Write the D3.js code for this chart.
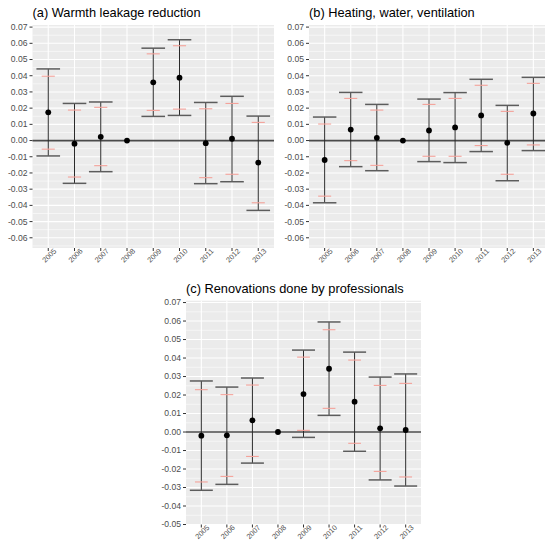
<!DOCTYPE html>
<html>
<head>
<meta charset="UTF-8" />
<title>event study panels</title>
<script src="https://d3js.org/d3.v7.min.js"></script>
<style>
  body { margin: 0; background: #fff; }
  text { font-family: "Liberation Sans", Arial, sans-serif; }
</style>
</head>
<body>
<svg id="chart" width="545" height="540"></svg>
<script>
// data
const years = ["2005","2006","2007","2008","2009","2010","2011","2012","2013"];

// (a) warmth leakage
const estA  = [0.0174, -0.0019, 0.0023, 0, 0.0359, 0.0388, -0.0016, 0.0011, -0.0136];
const lo95A = [-0.0095, -0.0264, -0.0192, null, 0.0149, 0.0155, -0.0266, -0.0254, -0.0431];
const hi95A = [0.0442, 0.0229, 0.0238, null, 0.0570, 0.0622, 0.0235, 0.0273, 0.0151];
const lo90A = [-0.0053, -0.0225, -0.0155, null, 0.0186, 0.0194, -0.0229, -0.0208, -0.0384];
const hi90A = [0.0397, 0.0188, 0.0205, null, 0.0535, 0.0585, 0.0196, 0.0229, 0.0112];

// (b) heating, water, ventilation
const estB  = [-0.0120, 0.0068, 0.0017, 0, 0.0062, 0.0081, 0.0155, -0.0014, 0.0167];
const lo95B = [-0.0384, -0.0161, -0.0186, null, -0.0130, -0.0136, -0.0068, -0.0248, -0.0062];
const hi95B = [0.0145, 0.0297, 0.0223, null, 0.0256, 0.0296, 0.0378, 0.0217, 0.0390];
const lo90B = [-0.0343, -0.0124, -0.0153, null, -0.0097, -0.0097, -0.0031, -0.0208, -0.0027];
const hi90B = [0.0102, 0.0260, 0.0188, null, 0.0223, 0.0260, 0.0341, 0.0180, 0.0353];

// (c) renovations by professionals
const estC  = [-0.0020, -0.0018, 0.0063, 0, 0.0205, 0.0342, 0.0164, 0.0020, 0.0011];
const lo95C = [-0.0315, -0.0283, -0.0168, null, -0.0029, 0.0090, -0.0104, -0.0259, -0.0292];
const hi95C = [0.0276, 0.0243, 0.0292, null, 0.0443, 0.0595, 0.0432, 0.0297, 0.0314];
const lo90C = [-0.0270, -0.0240, -0.0132, null, 0.0009, 0.0128, -0.0061, -0.0213, -0.0243];
const hi90C = [0.0229, 0.0202, 0.0254, null, 0.0405, 0.0553, 0.0389, 0.0252, 0.0263];

const yTicksAB = [-0.06,-0.05,-0.04,-0.03,-0.02,-0.01,0,0.01,0.02,0.03,0.04,0.05,0.06,0.07];
const yTicksC  = [-0.05,-0.04,-0.03,-0.02,-0.01,0,0.01,0.02,0.03,0.04,0.05,0.06,0.07];

const titles = ["(a) Warmth leakage reduction", "(b) Heating, water, ventilation", "(c) Renovations done by professionals"];

const svg = d3.select("#chart");

function drawPanel(cfg) {
  const g = svg.append("g");
  const x = d3.scalePoint().domain(years).range([cfg.x0, cfg.x1]).padding(0.6);
  const y = d3.scaleLinear().domain(cfg.ydom).range([cfg.y1, cfg.y0]);
  const step = x.step();

  // background
  g.append("rect").attr("x", cfg.x0).attr("y", cfg.y0)
    .attr("width", cfg.x1 - cfg.x0).attr("height", cfg.y1 - cfg.y0)
    .attr("fill", "#ebebeb");

  // minor grid
  const minor = [];
  for (let i = 0; i < cfg.ticks.length - 1; i++) minor.push((cfg.ticks[i] + cfg.ticks[i+1]) / 2);
  minor.push(cfg.ticks[0] - 0.005, cfg.ticks[cfg.ticks.length-1] + 0.005);
  g.selectAll(".minor").data(minor.filter(v => v > cfg.ydom[0] && v < cfg.ydom[1])).join("line")
    .attr("x1", cfg.x0).attr("x2", cfg.x1)
    .attr("y1", d => y(d)).attr("y2", d => y(d))
    .attr("stroke", "#fff").attr("stroke-width", 0.55);

  // major grid
  g.selectAll(".hmaj").data(cfg.ticks).join("line")
    .attr("x1", cfg.x0).attr("x2", cfg.x1)
    .attr("y1", d => y(d)).attr("y2", d => y(d))
    .attr("stroke", "#fff").attr("stroke-width", 1.1);
  g.selectAll(".vmaj").data(years).join("line")
    .attr("x1", d => x(d)).attr("x2", d => x(d))
    .attr("y1", cfg.y0).attr("y2", cfg.y1)
    .attr("stroke", "#fff").attr("stroke-width", 1.1);

  // zero line
  g.append("line").attr("x1", cfg.x0).attr("x2", cfg.x1)
    .attr("y1", y(0)).attr("y2", y(0))
    .attr("stroke", "#4a4a4a").attr("stroke-width", 1.7);

  const rows = years.map((yr, i) => ({yr, est: cfg.est[i], lo: cfg.lo95[i], hi: cfg.hi95[i], lo9: cfg.lo90[i], hi9: cfg.hi90[i]}))
    .filter(d => d.lo !== null);

  // 95% error bars
  g.selectAll(".vbar").data(rows).join("line")
    .attr("x1", d => x(d.yr)).attr("x2", d => x(d.yr))
    .attr("y1", d => y(d.lo)).attr("y2", d => y(d.hi))
    .attr("stroke", "#2a2a2a").attr("stroke-width", 1);
  ["lo", "hi"].forEach(k => {
    g.selectAll(".cap" + k).data(rows).join("line")
      .attr("x1", d => x(d.yr) - step * 0.45).attr("x2", d => x(d.yr) + step * 0.45)
      .attr("y1", d => y(d[k])).attr("y2", d => y(d[k]))
      .attr("stroke", "#5c5c5c").attr("stroke-width", 1.5);
  });
  // 90% caps
  ["lo9", "hi9"].forEach(k => {
    g.selectAll(".rcap" + k).data(rows).join("line")
      .attr("x1", d => x(d.yr) - step * 0.25).attr("x2", d => x(d.yr) + step * 0.25)
      .attr("y1", d => y(d[k])).attr("y2", d => y(d[k]))
      .attr("stroke", "#f4a29a").attr("stroke-width", 1.1);
  });

  // points
  g.selectAll(".pt").data(years.map((yr, i) => ({yr, est: cfg.est[i]}))).join("circle")
    .attr("cx", d => x(d.yr)).attr("cy", d => y(d.est)).attr("r", 2.9)
    .attr("fill", "#000");

  // y axis
  const ya = g.selectAll(".yt").data(cfg.ticks).join("g")
    .attr("transform", d => `translate(${cfg.x0},${y(d)})`);
  ya.append("line").attr("x1", -3).attr("x2", 0).attr("stroke", "#333").attr("stroke-width", 1);
  ya.append("text").attr("x", -5).attr("dy", "0.34em").attr("text-anchor", "end")
    .attr("font-size", "8.6px").attr("fill", "#4d4d4d")
    .text(d => (Math.abs(d) < 1e-9 ? 0 : d).toFixed(2));

  // x axis
  const xa = g.selectAll(".xt").data(years).join("g")
    .attr("transform", d => `translate(${x(d)},${cfg.y1})`);
  xa.append("line").attr("y1", 0).attr("y2", 3).attr("stroke", "#333").attr("stroke-width", 1);
  xa.append("text").attr("transform", "translate(1,7.5) rotate(-45)")
    .attr("text-anchor", "middle").attr("dy", "0.34em")
    .attr("font-size", "7.4px").attr("fill", "#4d4d4d")
    .text(d => d);

  // title
  g.append("text").attr("x", cfg.x0).attr("y", cfg.y0 - 8)
    .attr("font-size", "12.8px").attr("fill", "#000").text(cfg.title);
}

drawPanel({x0: 32.5, x1: 274, y0: 25, y1: 248, ydom: [-0.0663, 0.0713], ticks: yTicksAB,
  est: estA, lo95: lo95A, hi95: hi95A, lo90: lo90A, hi90: hi90A, title: titles[0]});
drawPanel({x0: 309, x1: 549, y0: 25, y1: 248, ydom: [-0.0663, 0.0713], ticks: yTicksAB,
  est: estB, lo95: lo95B, hi95: hi95B, lo90: lo90B, hi90: hi90B, title: titles[1]});
drawPanel({x0: 186, x1: 421, y0: 300.7, y1: 524.5, ydom: [-0.0500, 0.0710], ticks: yTicksC,
  est: estC, lo95: lo95C, hi95: hi95C, lo90: lo90C, hi90: hi90C, title: titles[2]});
</script>
</body>
</html>
